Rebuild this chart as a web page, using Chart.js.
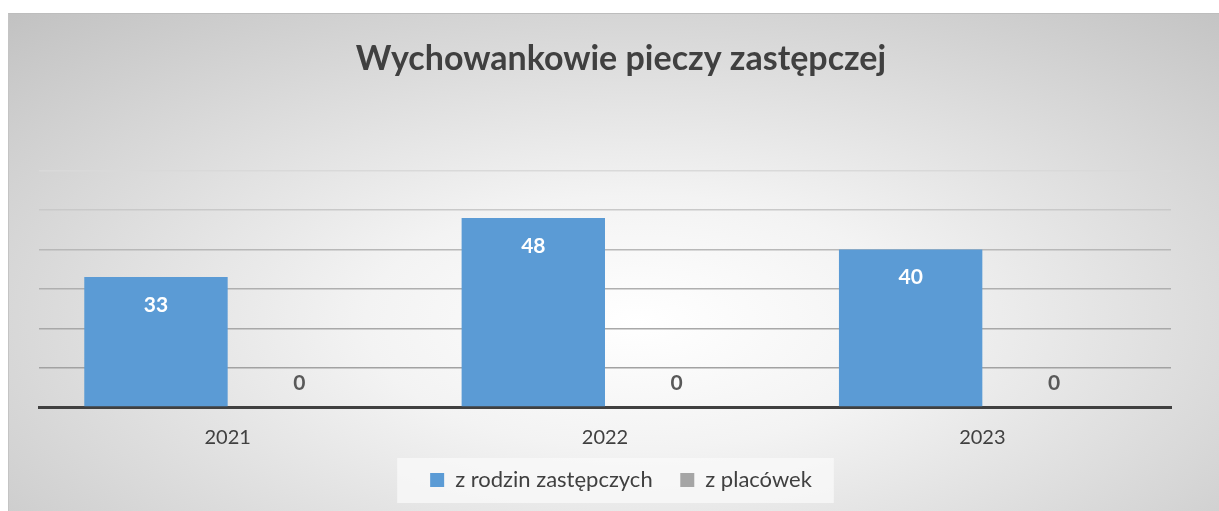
<!DOCTYPE html>
<html>
<head>
<meta charset="utf-8">
<script src="https://cdn.jsdelivr.net/npm/chart.js@4"></script>
<style>
  html, body { margin: 0; padding: 0; background: #fff; }
  #frame {
    position: absolute;
    left: 8px;
    top: 13px;
    width: 1211px;
    height: 498px;
    border-top: 1px solid #bdbdbd;
    border-left: 1px solid #c4c4c4;
    box-sizing: border-box;
    background: radial-gradient(ellipse 75% 85% at 52% 62%, #ffffff 0%, #f3f3f3 30%, #c2c2c2 100%);
  }
</style>
</head>
<body>
<div id="frame"><canvas id="chart" width="1210" height="497"></canvas></div>
<script>
const categories = ['2021', '2022', '2023']
const seriesNames = ['z rodzin zastępczych', 'z placówek']
const fosterFamilies = [33, 48, 40]
const careFacilities = [0, 0, 0]
const yMax = 60
const yStep = 10

const fontFamily = 'Lato, "Open Sans", sans-serif'

const gridColors = ['#404040', '#a2a2a2', '#a8a8a8', '#afafaf', '#b8b8b8', '#c9c9c9', '#d9d9d9']

// labels on the bars, like excel "inside end"
const barLabels = {
  id: 'barLabels',
  afterDatasetsDraw(chart) {
    const ctx = chart.ctx
    ctx.save()
    ctx.textAlign = 'center'
    ctx.textBaseline = 'middle'
    ctx.font = `bold 21px ${fontFamily}`
    chart.data.datasets.forEach((dataset, i) => {
      const meta = chart.getDatasetMeta(i)
      meta.data.forEach((bar, j) => {
        const value = dataset.data[j]
        if (value > 0) {
          ctx.fillStyle = '#ffffff'
          ctx.fillText(value, bar.x, bar.y + 28)
        } else {
          ctx.fillStyle = '#595959'
          ctx.fillText(value, bar.x, bar.y - 24)
        }
      })
    })
    ctx.restore()
  },
}

// light box behind the legend
const legendBox = {
  id: 'legendBox',
  beforeDraw(chart) {
    const boxes = chart.legend && chart.legend.legendHitBoxes
    if (!boxes || !boxes.length) return
    const left = Math.min(...boxes.map((b) => b.left)) - 33
    const right = Math.max(...boxes.map((b) => b.left + b.width)) + 22
    const mid = boxes[0].top + boxes[0].height / 2
    const ctx = chart.ctx
    ctx.save()
    ctx.fillStyle = 'rgba(250, 250, 250, 0.75)'
    ctx.fillRect(left, mid - 22, right - left, 45)
    ctx.restore()
  },
}

new Chart(document.getElementById('chart').getContext('2d'), {
  type: 'bar',
  data: {
    labels: categories,
    datasets: [
      {
        label: seriesNames[0],
        data: fosterFamilies,
        backgroundColor: '#5b9bd5',
        borderWidth: 0,
      },
      {
        label: seriesNames[1],
        data: careFacilities,
        backgroundColor: '#a5a5a5',
        borderWidth: 0,
      },
    ],
  },
  options: {
    responsive: false,
    animation: false,
    layout: {
      padding: { left: 30, right: 16, top: 0, bottom: 10 },
    },
    categoryPercentage: 0.76,
    barPercentage: 1,
    plugins: {
      title: {
        display: true,
        text: 'Wychowankowie pieczy zastępczej',
        color: '#404040',
        font: { family: fontFamily, size: 34, weight: 'bold' },
        padding: { top: 25, bottom: 91 },
      },
      legend: {
        position: 'bottom',
        labels: {
          color: '#404040',
          boxWidth: 14,
          boxHeight: 14,
          padding: 22,
          font: { family: fontFamily, size: 22 },
          generateLabels(chart) {
            const items = Chart.defaults.plugins.legend.labels.generateLabels(chart)
            // a bit more room between the two entries
            items.forEach((item, i) => {
              if (i < items.length - 1) item.text += '\u00a0'
            })
            return items
          },
        },
      },
      tooltip: { enabled: false },
    },
    scales: {
      x: {
        grid: { display: false, drawTicks: false },
        border: { display: true, color: '#404040', width: 3 },
        ticks: {
          color: '#404040',
          padding: 19,
          font: { family: fontFamily, size: 20 },
        },
        afterFit(scale) {
          scale.height = 40
        },
      },
      y: {
        position: 'right',
        min: 0,
        max: yMax,
        ticks: { display: false, stepSize: yStep },
        border: { display: false },
        grid: {
          drawTicks: false,
          lineWidth: 1.5,
          color: (c) => gridColors[c.index] || '#cccccc',
        },
        afterFit(scale) {
          scale.width = 32
        },
      },
    },
  },
  plugins: [legendBox, barLabels],
})
</script>
</body>
</html>
